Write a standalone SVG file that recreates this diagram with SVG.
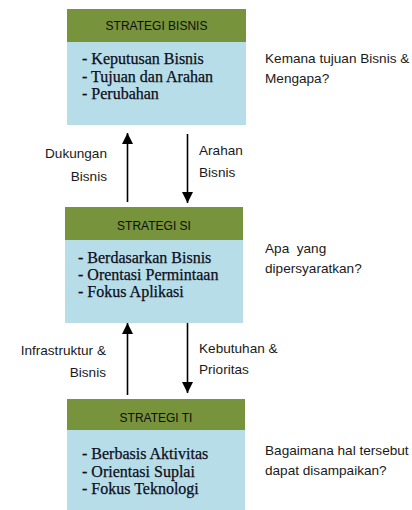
<svg xmlns="http://www.w3.org/2000/svg" width="412" height="510" viewBox="0 0 412 510">
<style>
.hdr{fill:#77933C}
.body{fill:#B7DDE8}
.ht{font-family:"Liberation Sans",Arial,sans-serif;font-size:12px;fill:#0d0d0d;text-anchor:middle}
.bt{font-family:"Liberation Serif","Times New Roman",serif;font-size:16px;fill:#0d0d1a;stroke:#0d0d1a;stroke-width:0.25}
.lb{font-family:"Liberation Sans",Arial,sans-serif;font-size:13.6px;fill:#1a1a1a}
.end{text-anchor:end}
.arr{stroke:#000;stroke-width:1.6;fill:none;marker-end:url(#ah)}
</style>
<defs>
<marker id="ah" markerUnits="userSpaceOnUse" markerWidth="12" markerHeight="11" refX="11" refY="5.5" orient="auto">
<path d="M0,0 L11,5.5 L0,11 z" fill="#000"/>
</marker>
</defs>
<rect width="412" height="510" fill="#fff"/>
<g id="bisnis">
<rect class="body" x="67" y="42" width="179" height="83"/>
<rect class="hdr" x="67" y="9" width="179" height="33"/>
<text class="ht" x="156.5" y="30">STRATEGI BISNIS</text>
<text class="bt" x="82" y="64">- Keputusan Bisnis</text>
<text class="bt" x="82" y="82">- Tujuan dan Arahan</text>
<text class="bt" x="82" y="99">- Perubahan</text>
</g>
<g id="si">
<rect class="body" x="65" y="240" width="178" height="83"/>
<rect class="hdr" x="65" y="207" width="178" height="33"/>
<text class="ht" x="154" y="230">STRATEGI SI</text>
<text class="bt" x="78" y="263">- Berdasarkan Bisnis</text>
<text class="bt" x="78" y="280">- Orentasi Permintaan</text>
<text class="bt" x="78" y="297">- Fokus Aplikasi</text>
</g>
<g id="ti">
<rect class="body" x="67" y="430" width="178" height="80"/>
<rect class="hdr" x="67" y="399" width="178" height="31"/>
<text class="ht" x="156" y="422">STRATEGI TI</text>
<text class="bt" x="82" y="459">- Berbasis Aktivitas</text>
<text class="bt" x="82" y="477">- Orientasi Suplai</text>
<text class="bt" x="82" y="494">- Fokus Teknologi</text>
</g>
<g id="connectors">
<line class="arr" x1="127.5" y1="202" x2="127.5" y2="133"/>
<line class="arr" x1="187.5" y1="134" x2="187.5" y2="203"/>
<line class="arr" x1="127.5" y1="395" x2="127.5" y2="323"/>
<line class="arr" x1="187.5" y1="323" x2="187.5" y2="393"/>
</g>
<g id="labels">
<text class="lb end" x="107" y="158">Dukungan</text>
<text class="lb end" x="107" y="181">Bisnis</text>
<text class="lb" x="199" y="155">Arahan</text>
<text class="lb" x="199" y="177">Bisnis</text>
<text class="lb end" x="106" y="355">Infrastruktur &amp;</text>
<text class="lb end" x="106" y="377">Bisnis</text>
<text class="lb" x="199" y="353">Kebutuhan &amp;</text>
<text class="lb" x="199" y="374">Prioritas</text>
</g>
<g id="questions">
<text class="lb" x="265" y="63">Kemana tujuan Bisnis &amp;</text>
<text class="lb" x="265" y="83">Mengapa?</text>
<text class="lb" x="265" y="253" xml:space="preserve">Apa  yang</text>
<text class="lb" x="265" y="273">dipersyaratkan?</text>
<text class="lb" x="265" y="455">Bagaimana hal tersebut</text>
<text class="lb" x="265" y="475">dapat disampaikan?</text>
</g>
</svg>
